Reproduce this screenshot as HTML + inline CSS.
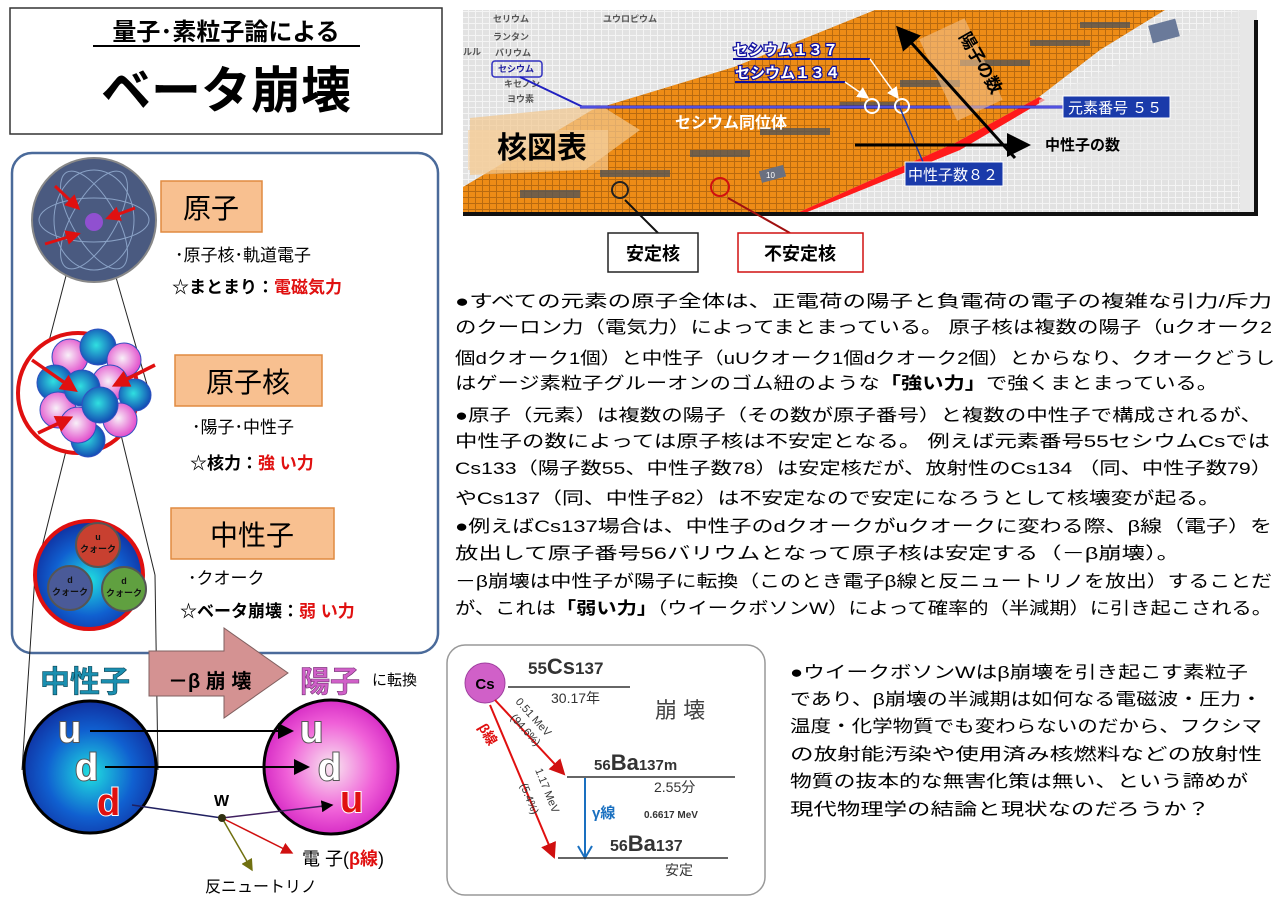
<!DOCTYPE html>
<html><head><meta charset="utf-8"><style>
html,body{margin:0;padding:0;background:#fff;}
svg{display:block;font-family:"Liberation Sans","Noto Sans CJK JP",sans-serif;}
</style></head><body>
<svg width="1280" height="904" viewBox="0 0 1280 904" xmlns="http://www.w3.org/2000/svg">
<defs>
<pattern id="grid" width="7" height="6" patternUnits="userSpaceOnUse"><rect width="7" height="6" fill="#f4f4f4"/><rect x="0" y="0" width="6" height="5" fill="#e2e2e2"/></pattern>
<pattern id="ogrid" width="7" height="6" patternUnits="userSpaceOnUse"><rect width="7" height="6" fill="#b86a10"/><rect x="0" y="0" width="6" height="5" fill="#ee8c16"/></pattern>
<radialGradient id="gblue" cx="50%" cy="55%" r="55%"><stop offset="0" stop-color="#20e0e0"/><stop offset="0.6" stop-color="#1060d0"/><stop offset="1" stop-color="#1030a0"/></radialGradient>
<radialGradient id="gpink" cx="50%" cy="50%" r="55%"><stop offset="0" stop-color="#f8e8f0"/><stop offset="0.6" stop-color="#f060d8"/><stop offset="1" stop-color="#d020c0"/></radialGradient>
<radialGradient id="gball" cx="45%" cy="45%" r="60%"><stop offset="0" stop-color="#30e0e0"/><stop offset="1" stop-color="#1040b0"/></radialGradient>
<radialGradient id="pball" cx="45%" cy="45%" r="60%"><stop offset="0" stop-color="#f8f0f8"/><stop offset="1" stop-color="#e040c8"/></radialGradient>
<marker id="ab" markerWidth="8" markerHeight="8" refX="7" refY="4" orient="auto"><path d="M0,0 L8,4 L0,8 z" fill="#000"/></marker>
<marker id="ar" markerWidth="8" markerHeight="8" refX="7" refY="4" orient="auto"><path d="M0,0 L8,4 L0,8 z" fill="#d01010"/></marker>
<marker id="ar2" markerWidth="5" markerHeight="5" refX="4" refY="2.5" orient="auto"><path d="M0,0 L5,2.5 L0,5 z" fill="#e01010"/></marker>
<marker id="ay" markerWidth="8" markerHeight="8" refX="7" refY="4" orient="auto"><path d="M0,0 L8,4 L0,8 z" fill="#707010"/></marker>
<marker id="aw" markerWidth="8" markerHeight="8" refX="7" refY="4" orient="auto"><path d="M0,0 L8,4 L0,8 z" fill="#fff"/></marker>
</defs>

<!-- Title -->
<rect x="10" y="8" width="432" height="126" fill="#fff" stroke="#333" stroke-width="1.5"/>
<text x="226" y="40" font-size="24" font-weight="bold" text-anchor="middle">量子･素粒子論による</text>
<line x1="93" y1="46" x2="360" y2="46" stroke="#000" stroke-width="2"/>
<text x="226" y="108" font-size="50" font-weight="bold" text-anchor="middle">ベータ崩壊</text>

<!-- Left panel -->
<rect x="12" y="153" width="426" height="500" rx="20" fill="#fff" stroke="#4a6a9a" stroke-width="2.5"/>
<line x1="80" y1="222" x2="35" y2="395" stroke="#222"/>
<line x1="100" y1="222" x2="150" y2="395" stroke="#222"/>
<line x1="80" y1="395" x2="35" y2="575" stroke="#222"/>
<line x1="115" y1="410" x2="155" y2="575" stroke="#222"/>
<line x1="35" y1="575" x2="22" y2="770" stroke="#222"/>
<line x1="155" y1="575" x2="158" y2="770" stroke="#222"/>
<!-- atom -->
<circle cx="94" cy="220" r="62" fill="#4a5a80" stroke="#888" stroke-width="2"/>
<g fill="none" stroke="#9ab4d8" stroke-width="1" opacity="0.8">
<ellipse cx="94" cy="220" rx="55" ry="22"/><ellipse cx="94" cy="220" rx="55" ry="22" transform="rotate(60 94 220)"/><ellipse cx="94" cy="220" rx="55" ry="22" transform="rotate(-60 94 220)"/><ellipse cx="94" cy="220" rx="40" ry="50"/>
</g>
<circle cx="94" cy="222" r="9" fill="#9050d0"/>
<g stroke="#e01010" stroke-width="3" fill="none"><line x1="55" y1="186" x2="78" y2="208" marker-end="url(#ar2)"/><line x1="135" y1="208" x2="108" y2="218" marker-end="url(#ar2)"/><line x1="45" y1="244" x2="78" y2="234" marker-end="url(#ar2)"/></g>
<!-- nucleus -->
<circle cx="78" cy="393" r="60" fill="#fff" stroke="#e01010" stroke-width="4"/>
<g stroke="#3050c0" stroke-width="1">
<circle cx="70" cy="357" r="18" fill="url(#pball)"/><circle cx="98" cy="347" r="18" fill="url(#gball)"/><circle cx="124" cy="360" r="17" fill="url(#pball)"/>
<circle cx="55" cy="383" r="18" fill="url(#gball)"/><circle cx="110" cy="383" r="18" fill="url(#pball)"/><circle cx="135" cy="395" r="16" fill="url(#gball)"/>
<circle cx="58" cy="410" r="18" fill="url(#pball)"/><circle cx="82" cy="388" r="18" fill="url(#gball)"/><circle cx="120" cy="420" r="17" fill="url(#pball)"/>
<circle cx="88" cy="440" r="17" fill="url(#gball)"/><circle cx="78" cy="425" r="18" fill="url(#pball)"/><circle cx="100" cy="405" r="18" fill="url(#gball)"/>
</g>
<g stroke="#e01010" stroke-width="3.5"><line x1="32" y1="360" x2="75" y2="390" marker-end="url(#ar2)"/><line x1="155" y1="365" x2="115" y2="385" marker-end="url(#ar2)"/><line x1="38" y1="433" x2="70" y2="418" marker-end="url(#ar2)"/></g>
<!-- neutron -->
<circle cx="89" cy="575" r="54" fill="url(#gblue)" stroke="#e01010" stroke-width="4"/>
<circle cx="98" cy="545" r="22" fill="#c84030" stroke="#555" stroke-width="2"/>
<circle cx="70" cy="588" r="22" fill="#4a5a98" stroke="#555" stroke-width="2"/>
<circle cx="124" cy="589" r="22" fill="#60a040" stroke="#555" stroke-width="2"/>
<g font-size="9" font-weight="bold" text-anchor="middle" fill="#111"><text x="98" y="540">u</text><text x="98" y="552">クォーク</text><text x="70" y="583">d</text><text x="70" y="595">クォーク</text><text x="124" y="584">d</text><text x="124" y="596">クォーク</text></g>
<rect x="161" y="181" width="101" height="51" fill="#f8c090" stroke="#e08a40" stroke-width="1.5"/>
<text x="211" y="218" font-size="28" text-anchor="middle">原子</text>
<text x="175" y="261" font-size="17">･原子核･軌道電子</text>
<text x="172" y="293" font-size="17" font-weight="bold">☆まとまり：<tspan fill="#e01010">電磁気力</tspan></text>
<rect x="175" y="355" width="147" height="51" fill="#f8c090" stroke="#e08a40" stroke-width="1.5"/>
<text x="248" y="392" font-size="28" text-anchor="middle">原子核</text>
<text x="192" y="433" font-size="17">･陽子･中性子</text>
<text x="190" y="469" font-size="17" font-weight="bold">☆核力：<tspan fill="#e01010">強 い力</tspan></text>
<rect x="171" y="508" width="163" height="51" fill="#f8c090" stroke="#e08a40" stroke-width="1.5"/>
<text x="252" y="545" font-size="28" text-anchor="middle">中性子</text>
<text x="188" y="584" font-size="17">･クオーク</text>
<text x="180" y="617" font-size="17" font-weight="bold">☆ベータ崩壊：<tspan fill="#e01010">弱 い力</tspan></text>

<!-- beta decay bottom -->
<path d="M149,651 L224,651 L224,628 L288,673 L224,718 L224,696 L149,696 z" fill="#d49292" stroke="#806060"/>
<text x="168" y="688" font-size="20" font-weight="bold">－β 崩 壊</text>
<text x="40" y="692" font-size="30" font-weight="bold" fill="#1a8fb0" stroke="#0a4050" stroke-width="0.6">中性子</text>
<text x="300" y="692" font-size="30" font-weight="bold" fill="#d060c8" stroke="#703070" stroke-width="0.6">陽子</text>
<text x="372" y="685" font-size="15">に転換</text>
<circle cx="90" cy="767" r="66" fill="url(#gblue)" stroke="#000" stroke-width="3"/>
<circle cx="331" cy="767" r="67" fill="url(#gpink)" stroke="#000" stroke-width="3"/>
<g font-size="38" font-weight="bold" stroke-width="2" paint-order="stroke">
<text x="58" y="742" fill="#fff" stroke="#555">u</text>
<text x="75" y="780" fill="#fff" stroke="#555">d</text>
<text x="97" y="815" fill="#e01010" stroke="#fff">d</text>
<text x="300" y="742" fill="#fff" stroke="#555">u</text>
<text x="318" y="780" fill="#fff" stroke="#555">d</text>
<text x="340" y="812" fill="#e01010" stroke="#fff">u</text>
</g>
<line x1="90" y1="731" x2="292" y2="731" stroke="#000" stroke-width="2" marker-end="url(#ab)"/>
<line x1="105" y1="767" x2="308" y2="767" stroke="#000" stroke-width="2" marker-end="url(#ab)"/>
<line x1="132" y1="805" x2="222" y2="818" stroke="#202060" stroke-width="1.5"/>
<line x1="222" y1="818" x2="332" y2="805" stroke="#402060" stroke-width="1.5" marker-end="url(#ab)"/>
<line x1="222" y1="818" x2="292" y2="853" stroke="#d01010" stroke-width="1.5" marker-end="url(#ar)"/>
<line x1="222" y1="818" x2="252" y2="870" stroke="#707010" stroke-width="1.5" marker-end="url(#ay)"/>
<circle cx="222" cy="818" r="4" fill="#303010"/>
<text x="214" y="806" font-size="16" font-weight="bold">W</text>
<text x="302" y="865" font-size="18">電 子(<tspan fill="#e01010" font-weight="bold">β線</tspan>)</text>
<text x="205" y="892" font-size="16">反ニュートリノ</text>

<!-- nuclear chart -->
<rect x="463" y="10" width="794" height="204" fill="url(#grid)"/>
<rect x="1240" y="10" width="17" height="204" fill="#e8e8e8"/>
<polygon points="463,187 592,110 734,67 875,10 1165,10 1100,50 1039,97 955,143 797,213 463,213" fill="url(#ogrid)"/>
<polygon points="470,118 600,105 640,130 585,170 470,175" fill="#f2c88e" opacity="0.7"/>
<g fill="#555" opacity="0.8">
<rect x="520" y="190" width="60" height="8"/><rect x="600" y="170" width="70" height="7"/><rect x="690" y="150" width="60" height="7"/><rect x="760" y="128" width="70" height="7"/><rect x="840" y="102" width="60" height="7"/><rect x="900" y="80" width="60" height="7"/><rect x="960" y="60" width="70" height="6"/><rect x="1030" y="40" width="60" height="6"/><rect x="1080" y="22" width="50" height="6"/>
</g>
<polygon points="797,213 955,143 1039,97 1045,100 960,150 805,213" fill="#ff1a1a"/>
<polygon points="1039,100 1240,10 1257,10 1257,180 1120,180 1040,150" fill="#e6e6e6" opacity="0.6"/>
<rect x="463" y="212" width="794" height="4" fill="#111"/>
<rect x="1254" y="20" width="4" height="196" fill="#111"/>
<g font-size="9" fill="#555" font-weight="bold"><text x="493" y="22">セリウム</text><text x="603" y="22">ユウロピウム</text><text x="493" y="40">ランタン</text><text x="495" y="56">バリウム</text><text x="498" y="72" fill="#2020a0">セシウム</text><text x="504" y="87">キセノン</text><text x="507" y="102">ヨウ素</text><text x="463" y="55">ルル</text></g>
<rect x="492" y="61" width="50" height="16" rx="3" fill="none" stroke="#3030c0" stroke-width="1.5"/>
<polyline points="520,77 583,107" fill="none" stroke="#2020c0" stroke-width="2"/>
<line x1="580" y1="107" x2="1063" y2="107" stroke="#2020c0" stroke-width="3"/>
<line x1="580" y1="107" x2="1063" y2="107" stroke="#8080ff" stroke-width="1"/>
<text x="733" y="55" font-size="15" font-weight="bold" fill="#fff" stroke="#1010a0" stroke-width="2.5" paint-order="stroke">セシウム１３７</text>
<line x1="733" y1="59" x2="870" y2="59" stroke="#1010a0" stroke-width="2"/>
<text x="735" y="78" font-size="15" font-weight="bold" fill="#fff" stroke="#1010a0" stroke-width="2.5" paint-order="stroke">セシウム１３４</text>
<line x1="735" y1="82" x2="845" y2="82" stroke="#1010a0" stroke-width="2"/>
<line x1="845" y1="82" x2="868" y2="98" stroke="#fff" stroke-width="1.5" marker-end="url(#aw)"/>
<line x1="870" y1="59" x2="898" y2="98" stroke="#fff" stroke-width="1.5" marker-end="url(#aw)"/>
<circle cx="872" cy="106" r="7" fill="none" stroke="#fff" stroke-width="2"/>
<circle cx="902" cy="106" r="7" fill="none" stroke="#fff" stroke-width="2"/>
<text x="675" y="128" font-size="16" font-weight="bold" fill="#fff">セシウム同位体</text>
<rect x="468" y="130" width="140" height="40" fill="#f5d0a0" opacity="0.6"/>
<text x="497" y="158" font-size="30" font-weight="bold">核図表</text>
<rect x="1063" y="96" width="107" height="22" fill="#1a3aaa" stroke="#fff"/>
<text x="1068" y="113" font-size="15" fill="#fff">元素番号 ５５</text>
<line x1="900" y1="108" x2="923" y2="162" stroke="#1a3aaa" stroke-width="1.5"/>
<rect x="905" y="162" width="98" height="24" fill="#1a3aaa" stroke="#fff"/>
<text x="908" y="180" font-size="15" fill="#fff">中性子数８２</text>
<rect x="936" y="25" width="50" height="90" fill="#f2c08a" opacity="0.6" transform="rotate(-25 960 70)"/>
<line x1="1015" y1="158" x2="898" y2="28" stroke="#000" stroke-width="3" marker-end="url(#ab)"/>
<text x="945" y="40" font-size="17" font-weight="bold" transform="rotate(60 955 50)">陽子の数</text>
<line x1="855" y1="145" x2="1028" y2="145" stroke="#000" stroke-width="3" marker-end="url(#ab)"/>
<text x="1045" y="150" font-size="15" font-weight="bold">中性子の数</text>
<rect x="760" y="168" width="25" height="12" fill="#6a7080" transform="rotate(-15 772 174)"/>
<text x="766" y="178" font-size="8" fill="#fff">10</text>
<rect x="1150" y="22" width="28" height="18" fill="#6a7a9a" transform="rotate(-15 1164 31)"/>
<circle cx="620" cy="190" r="8" fill="none" stroke="#222" stroke-width="2"/>
<circle cx="720" cy="187" r="9" fill="none" stroke="#d01010" stroke-width="2"/>
<line x1="658" y1="233" x2="625" y2="200" stroke="#111" stroke-width="2"/>
<line x1="790" y1="233" x2="728" y2="198" stroke="#a01010" stroke-width="2"/>
<rect x="608" y="233" width="90" height="39" fill="#fff" stroke="#222" stroke-width="1.5"/>
<text x="653" y="260" font-size="18" font-weight="bold" text-anchor="middle">安定核</text>
<rect x="738" y="233" width="125" height="39" fill="#fff" stroke="#d01010" stroke-width="1.5"/>
<text x="800" y="260" font-size="18" font-weight="bold" text-anchor="middle">不安定核</text>

<!-- main text -->
<g font-size="17" fill="#000">
<text x="455" y="307" textLength="817" lengthAdjust="spacingAndGlyphs">●すべての元素の原子全体は、正電荷の陽子と負電荷の電子の複雑な引力/斥力</text>
<text x="455" y="333" textLength="817" lengthAdjust="spacingAndGlyphs">のクーロン力（電気力）によってまとまっている。 原子核は複数の陽子（uクオーク2</text>
<text x="455" y="364" textLength="820" lengthAdjust="spacingAndGlyphs">個dクオーク1個）と中性子（uUクオーク1個dクオーク2個）とからなり、クオークどうし</text>
<text x="455" y="389" textLength="763" lengthAdjust="spacingAndGlyphs">はゲージ素粒子グルーオンのゴム紐のような<tspan font-weight="bold">「強い力」</tspan>で強くまとまっている。</text>
<text x="455" y="421" textLength="807" lengthAdjust="spacingAndGlyphs">●原子（元素）は複数の陽子（その数が原子番号）と複数の中性子で構成されるが、</text>
<text x="455" y="447" textLength="815" lengthAdjust="spacingAndGlyphs">中性子の数によっては原子核は不安定となる。 例えば元素番号55セシウムCsでは</text>
<text x="455" y="474" textLength="817" lengthAdjust="spacingAndGlyphs">Cs133（陽子数55、中性子数78）は安定核だが、放射性のCs134 （同、中性子数79）</text>
<text x="455" y="504" textLength="765" lengthAdjust="spacingAndGlyphs">やCs137（同、中性子82）は不安定なので安定になろうとして核壊変が起る。</text>
<text x="455" y="532" textLength="817" lengthAdjust="spacingAndGlyphs">●例えばCs137場合は、中性子のdクオークがuクオークに変わる際、β線（電子）を</text>
<text x="455" y="559" textLength="725" lengthAdjust="spacingAndGlyphs">放出して原子番号56バリウムとなって原子核は安定する（－β崩壊）。</text>
<text x="455" y="587" textLength="817" lengthAdjust="spacingAndGlyphs">－β崩壊は中性子が陽子に転換（このとき電子β線と反ニュートリノを放出）することだ</text>
<text x="455" y="614" textLength="817" lengthAdjust="spacingAndGlyphs">が、これは<tspan font-weight="bold">「弱い力」</tspan>（ウイークボソンW）によって確率的（半減期）に引き起こされる。</text>
</g>
<g font-size="17" fill="#000">
<text x="790" y="678" textLength="458" lengthAdjust="spacingAndGlyphs">●ウイークボソンWはβ崩壊を引き起こす素粒子</text>
<text x="790" y="705" textLength="472" lengthAdjust="spacingAndGlyphs">であり、β崩壊の半減期は如何なる電磁波・圧力・</text>
<text x="790" y="732" textLength="472" lengthAdjust="spacingAndGlyphs">温度・化学物質でも変わらないのだから、フクシマ</text>
<text x="790" y="760" textLength="472" lengthAdjust="spacingAndGlyphs">の放射能汚染や使用済み核燃料などの放射性</text>
<text x="790" y="787" textLength="458" lengthAdjust="spacingAndGlyphs">物質の抜本的な無害化策は無い、という諦めが</text>
<text x="790" y="815" textLength="420" lengthAdjust="spacingAndGlyphs">現代物理学の結論と現状なのだろうか？</text>
</g>

<!-- decay diagram -->
<rect x="447" y="645" width="318" height="250" rx="18" fill="#fff" stroke="#999" stroke-width="1.5"/>
<line x1="508" y1="687" x2="630" y2="687" stroke="#333" stroke-width="1.5"/>
<circle cx="485" cy="683" r="20" fill="#d060c8" stroke="#a040a0"/>
<text x="485" y="689" font-size="15" font-weight="bold" text-anchor="middle">Cs</text>
<text x="528" y="674" font-size="17" font-weight="bold" fill="#333">55<tspan font-size="22">Cs</tspan>137</text>
<text x="551" y="703" font-size="14" fill="#333">30.17年</text>
<text x="655" y="718" font-size="22" fill="#444">崩 壊</text>
<line x1="495" y1="700" x2="564" y2="774" stroke="#e01010" stroke-width="2" marker-end="url(#ar)"/>
<line x1="490" y1="705" x2="554" y2="857" stroke="#e01010" stroke-width="2" marker-end="url(#ar)"/>
<text x="0" y="0" font-size="11" fill="#333" transform="translate(515,702) rotate(48)">0.51 MeV</text>
<text x="0" y="0" font-size="11" fill="#333" transform="translate(510,718) rotate(48)">(94.6%)</text>
<text x="0" y="0" font-size="11" fill="#333" transform="translate(535,770) rotate(68)">1.17 MeV</text>
<text x="0" y="0" font-size="11" fill="#333" transform="translate(520,785) rotate(68)">(5.4%)</text>
<text x="0" y="0" font-size="14" font-weight="bold" fill="#e01010" transform="translate(478,727) rotate(60)">β線</text>
<line x1="567" y1="777" x2="735" y2="777" stroke="#333" stroke-width="1.5"/>
<text x="594" y="770" font-size="15" font-weight="bold" fill="#333">56<tspan font-size="22">Ba</tspan>137m</text>
<text x="654" y="792" font-size="14" fill="#333">2.55分</text>
<line x1="585" y1="778" x2="585" y2="856" stroke="#1a70c0" stroke-width="2"/>
<path d="M578,846 L585,858 L592,846" fill="none" stroke="#1a70c0" stroke-width="2"/>
<text x="592" y="818" font-size="15" font-weight="bold" fill="#1a70c0">γ線</text>
<text x="644" y="818" font-size="10" font-weight="bold" fill="#333">0.6617 MeV</text>
<line x1="558" y1="858" x2="728" y2="858" stroke="#333" stroke-width="1.5"/>
<text x="610" y="851" font-size="16" font-weight="bold" fill="#333">56<tspan font-size="22">Ba</tspan>137</text>
<text x="665" y="875" font-size="14" fill="#333">安定</text>
</svg>
</body></html>
